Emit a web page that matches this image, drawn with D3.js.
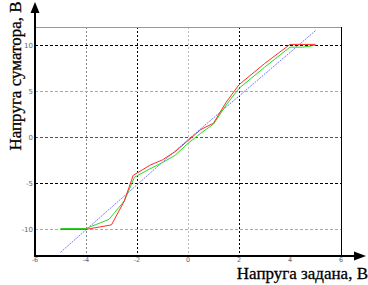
<!DOCTYPE html>
<html>
<head>
<meta charset="utf-8">
<script src="https://cdn.jsdelivr.net/npm/d3@7"></script>
<style>
  body { margin: 0; background: #fff; }
  svg { display: block; }
</style>
</head>
<body>
<script>
// data
var redX = [-5, -4, -3, -2.5, -2.15, -1.5, -1, -0.5, 0, 0.5, 1, 1.5, 2, 3, 4, 4.3, 5];
var redY = [-10.1, -10.1, -9.6, -7.0, -4.2, -3.1, -2.5, -1.6, -0.4, 0.8, 1.5, 3.8, 5.7, 8.0, 10.1, 10.1, 10.1];
var greenX = [-5, -4, -3.1, -2.5, -2.1, -1.5, -1, -0.5, 0, 0.5, 1, 1.5, 2, 3, 4, 4.5, 5];
var greenY = [-10, -10, -9.0, -7.0, -4.4, -3.5, -2.8, -2.0, -0.7, 0.4, 1.4, 3.5, 5.3, 7.6, 9.8, 9.8, 10.0];
var blueX = [-5, 0, 5];
var blueY = [-12.6, -0.3, 11.6];
var xTicks = [-6, -4, -2, 0, 2, 4, 6];
var yTicks = [-10, -5, 0, 5, 10];
var xGrid = [-4, -2, 0, 2];
var yGrid = [-10, -5, 0, 5, 10];

draw_chart();

function draw_chart() {
    var w = 368, h = 285;
    var x = d3.scaleLinear().domain([-6, 6]).range([35, 341]);
    var y = d3.scaleLinear().domain([-13, 12]).range([256, 27]);

    var svg = d3.select("body")
        .append("svg")
        .attr("width", w)
        .attr("height", h);

    // grid
    function gridColor(v, vertical) {
        if (vertical) return (v == -2 || v == 2) ? "#000" : (v == -4 ? "#888" : "#bbb");
        return (v == 10 || v == -5) ? "#000" : (v == 0 ? "#555" : "#aaa");
    }
    svg.selectAll(".gx")
        .data(xGrid)
        .enter()
        .append("line")
        .attr("x1", function(d) { return Math.round(x(d)) + 0.5; })
        .attr("x2", function(d) { return Math.round(x(d)) + 0.5; })
        .attr("y1", y(12))
        .attr("y2", y(-13))
        .attr("stroke", function(d) { return gridColor(d, true); })
        .attr("stroke-dasharray", "2,2");
    svg.selectAll(".gy")
        .data(yGrid)
        .enter()
        .append("line")
        .attr("x1", x(-6))
        .attr("x2", x(6))
        .attr("y1", function(d) { return Math.round(y(d)) + 0.5; })
        .attr("y2", function(d) { return Math.round(y(d)) + 0.5; })
        .attr("stroke", function(d) { return gridColor(d, false); })
        .attr("stroke-dasharray", "3,2");

    // frame top + right
    svg.append("line").attr("x1", x(-6)).attr("x2", x(6)).attr("y1", 27.5).attr("y2", 27.5)
        .attr("stroke", "#999");
    svg.append("line").attr("x1", 341.5).attr("x2", 341.5).attr("y1", 27).attr("y2", 256)
        .attr("stroke", "#000");

    // series
    var line = d3.line()
        .x(function(d) { return x(d[0]); })
        .y(function(d) { return y(d[1]); });
    var series = [
        { xs: blueX, ys: blueY, c: "#6a6aff", dash: "2,1", sw: 0.9 },
        { xs: greenX, ys: greenY, c: "#22dd22", dash: null, sw: 1 },
        { xs: redX, ys: redY, c: "#ff2a2a", dash: null, sw: 1 }
    ];
    series.forEach(function(s) {
        svg.append("path")
            .datum(d3.zip(s.xs, s.ys))
            .attr("d", line)
            .attr("fill", "none")
            .attr("stroke", s.c)
            .attr("stroke-width", s.sw)
            .attr("stroke-dasharray", s.dash);
    });

    // axes with arrows
    svg.append("line").attr("x1", 35).attr("x2", 35).attr("y1", 257).attr("y2", 10)
        .attr("stroke", "#000").attr("stroke-width", 2);
    svg.append("path").attr("d", "M35,2 L30.5,13 L39.5,13 Z").attr("fill", "#000");
    svg.append("line").attr("x1", 34).attr("x2", 358).attr("y1", 256).attr("y2", 256)
        .attr("stroke", "#000").attr("stroke-width", 2);
    svg.append("path").attr("d", "M366,256 L354,251.5 L354,260.5 Z").attr("fill", "#000");

    // tick labels
    svg.selectAll(".xt")
        .data(xTicks)
        .enter()
        .append("text")
        .attr("x", function(d) { return x(d); })
        .attr("y", 262)
        .attr("text-anchor", "middle")
        .attr("font-family", "DejaVu Sans")
        .attr("font-size", 6.5)
        .attr("fill", "#666")
        .text(function(d) { return d; });
    svg.selectAll(".yt")
        .data(yTicks)
        .enter()
        .append("text")
        .attr("x", 33)
        .attr("y", function(d) { return y(d) + 3; })
        .attr("text-anchor", "end")
        .attr("font-family", "DejaVu Sans")
        .attr("font-size", 7)
        .attr("fill", "#666")
        .text(function(d) { return d; });

    // titles
    svg.append("text")
        .attr("x", 368)
        .attr("y", 279)
        .attr("text-anchor", "end")
        .attr("font-family", "Liberation Serif")
        .attr("font-size", 17)
        .attr("fill", "#000")
        .attr("stroke", "#000")
        .attr("stroke-width", 0.3)
        .text("Напруга задана, В");
    svg.append("text")
        .attr("transform", "translate(21,76) rotate(-90)")
        .attr("text-anchor", "middle")
        .attr("font-family", "Liberation Serif")
        .attr("font-size", 17)
        .attr("fill", "#000")
        .attr("stroke", "#000")
        .attr("stroke-width", 0.3)
        .text("Напруга суматора, В");
}
</script>
</body>
</html>
